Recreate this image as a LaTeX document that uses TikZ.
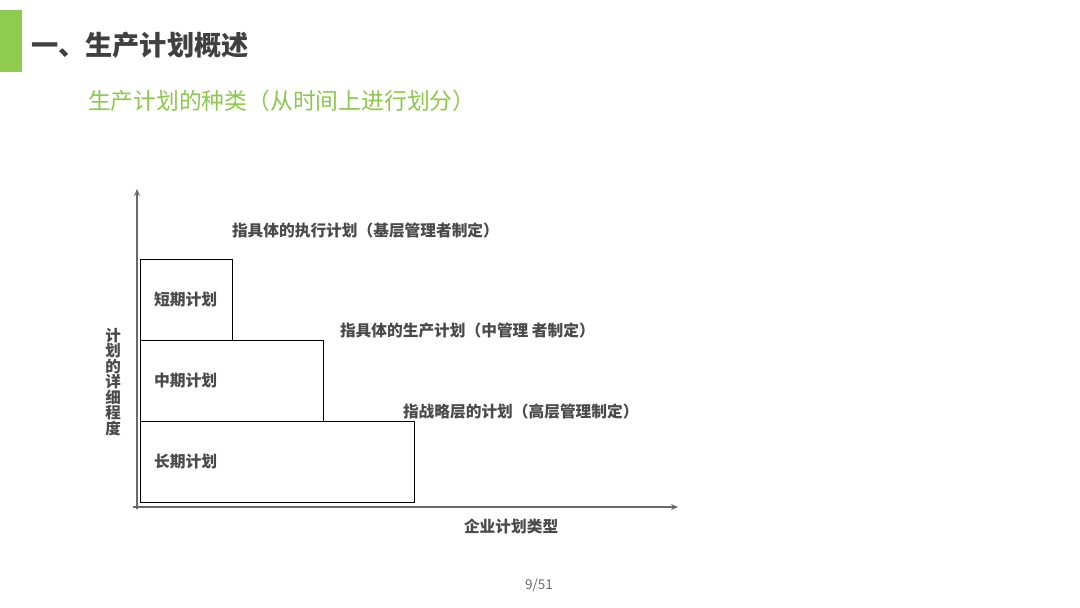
\documentclass[tikz,border=0pt]{standalone}
\usepackage{fontspec}
\newfontfamily\cjk{Noto Sans CJK SC}
\usetikzlibrary{arrows.meta}
\definecolor{barGreen}{HTML}{8FCB4F}
\definecolor{subGreen}{HTML}{8CC84B}
\definecolor{titleGray}{HTML}{404040}
\definecolor{txtGray}{HTML}{4A4A4A}
\definecolor{axisGray}{HTML}{6A6A6A}
\begin{document}
\begin{tikzpicture}[x=1pt,y=-1pt,
  every node/.style={inner sep=0pt, outer sep=0pt, font=\cjk},
  planbox/.style={draw=black, line width=0.9pt, fill=white},
  boxtext/.style={anchor=west, text=txtGray, font=\cjk\bfseries\fontsize{15.8}{18}\selectfont},
  note/.style={anchor=west, text=txtGray, font=\cjk\bfseries\fontsize{15.7}{18}\selectfont},
  axis/.style={draw=axisGray, line width=2pt, -{Stealth[length=7pt,width=6pt]}}
]
\useasboundingbox (0,0) rectangle (1080,608);
\fill[white] (0,0) rectangle (1080,608);
% header
\fill[barGreen] (0,10) rectangle (22,72);
\node[anchor=west, text=titleGray, font=\cjk\bfseries\fontsize{27.2}{30}\selectfont] (title) at (31,45) {一、生产计划概述};
\node[anchor=west, text=subGreen, font=\cjk\fontsize{22.8}{26}\selectfont] (sub) at (88,101) {生产计划的种类（从时间上进行划分）};
% axes
\coordinate (ytop) at (137,189);
\coordinate (xend) at (678,507);
\coordinate (xstart) at (133,507);
\draw[axis] (137,509) -- (ytop);
\draw[axis] (xstart) -- (xend);
% boxes
\node[planbox, minimum width=92pt, minimum height=81pt, anchor=north west] (short) at (140,259) {};
\node[planbox, minimum width=183pt, minimum height=81pt, anchor=north west] (mid) at (140,340) {};
\node[planbox, minimum width=274pt, minimum height=81pt, anchor=north west] (long) at (140,421) {};
\node[boxtext] (shortT) at (154,300) {短期计划};
\node[boxtext] (midT) at (154,381) {中期计划};
\node[boxtext] (longT) at (154,462) {长期计划};
% notes
\node[note] (n1) at (232,231) {指具体的执行计划（基层管理者制定）};
\node[note] (n2) at (340,331) {指具体的生产计划（中管理 者制定）};
\node[note] (n3) at (403,412) {指战略层的计划（高层管理制定）};
% axis labels
\node[text=txtGray, font=\cjk\bfseries\fontsize{15.5}{15.5}\selectfont, align=center, anchor=center] (ylab) at (113,382) {计\\划\\的\\详\\细\\程\\度};
\node[text=txtGray, font=\cjk\bfseries\fontsize{15.7}{18}\selectfont, anchor=west] (xlab) at (464,526) {企业计划类型};
% page
\node[text=axisGray, font=\cjk\fontsize{13.5}{16}\selectfont] (page) at (539,585) {9/51};
\end{tikzpicture}
\end{document}
